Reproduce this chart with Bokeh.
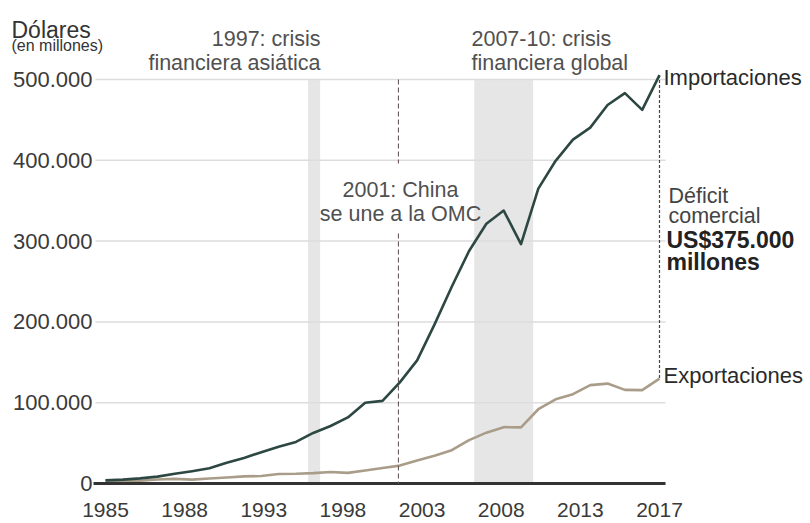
import numpy as np
from bokeh.plotting import figure
from bokeh.models import Label, FixedTicker, Range1d
from bokeh.embed import file_html
from bokeh.resources import INLINE

# ---- data (millones de dólares) ----
years = list(range(1985, 2018))
importaciones = [3862, 4771, 6294, 8511, 11990, 15237, 18969, 25728, 31540, 38787,
                 45543, 51513, 62558, 71169, 81788, 100018, 102278, 125193, 152436,
                 196682, 243470, 287774, 321443, 337773, 296374, 364953, 399371,
                 425619, 440430, 468475, 483202, 462420, 505470]
exportaciones = [3856, 3106, 3497, 5022, 5755, 4806, 6278, 7418, 8763, 9282,
                 11754, 11993, 12862, 14241, 13111, 16185, 19182, 22128, 28368,
                 34428, 41192, 53673, 62937, 69733, 69497, 91911, 104122,
                 110516, 121746, 123657, 115873, 115595, 129894]

x_tick_labels = ["1985", "1988", "1993", "1998", "2003", "2008", "2013", "2017"]
y_ticks = [0, 100000, 200000, 300000, 400000, 500000]
y_tick_labels = ["0", "100.000", "200.000", "300.000", "400.000", "500.000"]

crisis_start = [1996.7, 2006.3]
crisis_end = [1997.4, 2009.7]
omc_year = 2001.92

FONT = "Liberation Sans"
IMP_COLOR = "#2d4742"
EXP_COLOR = "#a99d89"
TXT = "#505050"

W, H = 810, 523

# pixel -> data helpers (for annotation placement only)
PX_PER_YEAR = 17.3125
PX_PER_UNIT = 0.000808
def dx(px):
    return 1985 + (px - 105) / PX_PER_YEAR
def dy(py):
    return (483 - py) / PX_PER_UNIT

p = figure(width=W, height=H, output_backend="svg", toolbar_location=None,
           x_range=Range1d(dx(0), dx(W)), y_range=Range1d(dy(H), dy(0)),
           min_border=0)
p.outline_line_color = None
p.background_fill_color = "white"
p.border_fill_color = "white"

# crisis bands
p.quad(left=crisis_start, right=crisis_end, bottom=[0, 0], top=[500000, 500000],
       fill_color="#e6e6e6", line_color=None)

# horizontal grid lines (limited to the plotting area)
p.xgrid.visible = False
p.ygrid.visible = False
p.segment(x0=[dx(95)] * len(y_ticks), x1=[dx(665)] * len(y_ticks),
          y0=y_ticks, y1=y_ticks, line_color="#dddddd", line_width=1.5)

# axes (pinned inside the frame)
p.yaxis.fixed_location = dx(96)
p.yaxis.ticker = FixedTicker(ticks=y_ticks)
p.yaxis.major_label_overrides = {t: l for t, l in zip(y_ticks, y_tick_labels)}
p.yaxis.axis_line_color = None
p.yaxis.major_tick_line_color = None
p.yaxis.minor_tick_line_color = None
p.yaxis.major_tick_out = 0
p.yaxis.major_tick_in = 0
p.yaxis.major_label_standoff = 4
p.yaxis.major_label_text_font = FONT
p.yaxis.major_label_text_font_size = "22px"
p.yaxis.major_label_text_color = "#3a3a3a"

x_ticks = [round(float(v), 4) for v in np.linspace(years[0], years[-1], len(x_tick_labels))]
p.xaxis.fixed_location = 0
p.xaxis.ticker = FixedTicker(ticks=x_ticks)
p.xaxis.major_label_overrides = {t: l for t, l in zip(x_ticks, x_tick_labels)}
p.xaxis.axis_line_color = None
p.xaxis.major_tick_line_color = None
p.xaxis.minor_tick_line_color = None
p.xaxis.major_tick_out = 0
p.xaxis.major_tick_in = 0
p.xaxis.major_label_standoff = 19
p.xaxis.major_label_text_font = FONT
p.xaxis.major_label_text_font_size = "21px"
p.xaxis.major_label_text_color = "#3a3a3a"

# lines
p.line(years, exportaciones, line_color=EXP_COLOR, line_width=2.6, line_join="round")
p.line(years, importaciones, line_color=IMP_COLOR, line_width=2.6, line_join="round")

# baseline
p.segment(x0=[dx(93)], x1=[dx(665)], y0=[0], y1=[0], line_color="#333333", line_width=3)

# WTO dashed line (interrupted behind its label)
p.segment(x0=[omc_year, omc_year], y0=[500000, dy(233)], x1=[omc_year, omc_year],
          y1=[dy(163), 0], line_color="#6a5a5a", line_width=1.1, line_dash="5 3")

# deficit connector at last year
p.segment(x0=[years[-1]], y0=[importaciones[-1]], x1=[years[-1]], y1=[exportaciones[-1]],
          line_color="#444444", line_width=1.2, line_dash="3 2")

SHIFT = 9
def lab(text, px, py, size="21.5px", align="left", color=TXT, style="normal"):
    p.add_layout(Label(x=dx(px), y=dy(py - SHIFT), text=text, text_font=FONT,
                       text_font_size=size, text_align=align,
                       text_baseline="alphabetic", text_color=color,
                       text_font_style=style))

lab("Dólares", 11, 38, size="23px", color="#333333")
lab("(en millones)", 11, 54, size="16px", color="#333333")

lab("1997: crisis", 320, 47, align="right")
lab("financiera asiática", 320, 71, align="right")

lab("2007-10: crisis", 471, 47)
lab("financiera global", 471, 71)

lab("2001: China", 400, 198, align="center")
lab("se une a la OMC", 400, 222, align="center")

lab("Importaciones", 663, 86, size="22px", color="#2a2a2a")
lab("Exportaciones", 663, 384, size="22px", color="#2a2a2a")

lab("Déficit", 668, 204, color="#444444")
lab("comercial", 668, 224, color="#444444")
lab("US$375.000", 666, 248, size="23px", color="#222222", style="bold")
lab("millones", 666, 270, size="23px", color="#222222", style="bold")

open("out.html", "w").write(file_html(p, INLINE))
